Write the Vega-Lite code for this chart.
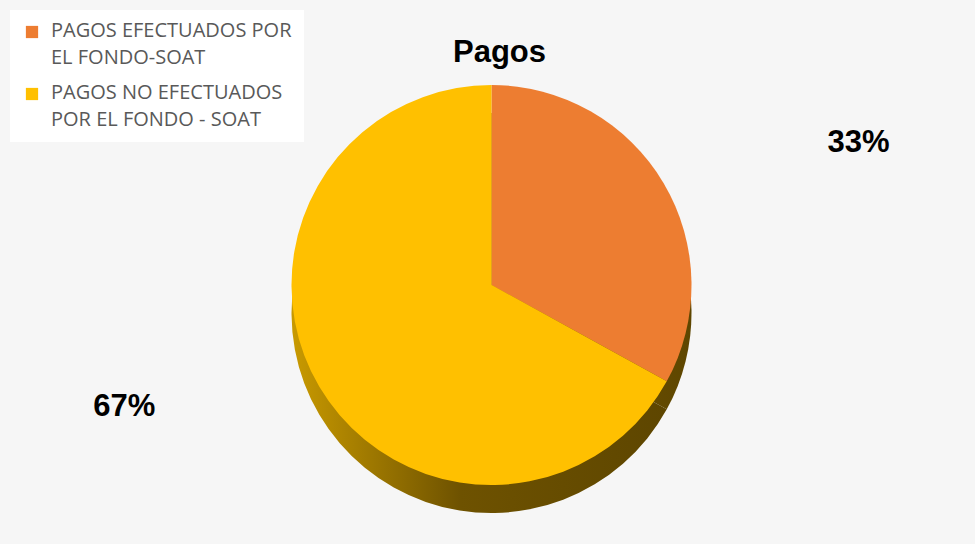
{
  "$schema": "https://vega.github.io/schema/vega-lite/v6.json",
  "width": 975,
  "height": 544,
  "autosize": {"type": "fit", "contains": "padding"},
  "padding": {"left": 8, "top": 6, "right": 0, "bottom": 0},
  "background": "#f6f6f6",
  "config": {"view": {"stroke": null}},
  "title": {
    "text": "Pagos",
    "font": "Liberation Sans",
    "fontSize": 31,
    "fontWeight": "bold",
    "color": "#000000",
    "anchor": "middle",
    "offset": -63,
    "dx": 8
  },
  "data": {
    "values": [
      {"categoria": "PAGOS EFECTUADOS POR EL FONDO-SOAT", "porcentaje": 33, "orden": 1, "etiqueta": "33%"},
      {"categoria": "PAGOS NO EFECTUADOS POR EL FONDO - SOAT", "porcentaje": 67, "orden": 2, "etiqueta": "67%"}
    ]
  },
  "layer": [
    {
      "mark": {
        "type": "arc",
        "outerRadius": 200,
        "yOffset": 38,
        "fill": {
          "gradient": "linear",
          "x1": 0, "y1": 0, "x2": 1, "y2": 0,
          "stops": [
            {"offset": 0, "color": "#c99a00"},
            {"offset": 0.45, "color": "#6e5200"},
            {"offset": 1, "color": "#5e4600"}
          ]
        }
      },
      "encoding": {
        "theta": {"field": "porcentaje", "type": "quantitative", "stack": true},
        "order": {"field": "orden", "type": "ordinal"}
      }
    },
    {
      "mark": {"type": "arc", "outerRadius": 200, "yOffset": 10},
      "encoding": {
        "theta": {"field": "porcentaje", "type": "quantitative", "stack": true},
        "order": {"field": "orden", "type": "ordinal"},
        "color": {
          "field": "categoria",
          "type": "nominal",
          "scale": {
            "domain": ["PAGOS EFECTUADOS POR EL FONDO-SOAT", "PAGOS NO EFECTUADOS POR EL FONDO - SOAT"],
            "range": ["#ED7D31", "#FFC000"]
          },
          "legend": {
            "title": null,
            "orient": "none",
            "legendX": 2,
            "legendY": 4,
            "fillColor": "white",
            "padding": 12,
            "symbolType": "square",
            "symbolSize": 150,
            "symbolStrokeWidth": 0,
            "labelFont": "Open Sans",
            "labelFontSize": 20,
            "labelColor": "#595959",
            "labelLimit": 320,
            "labelOffset": 9,
            "labelBaseline": "top",
            "rowPadding": 15,
            "labelExpr": "datum.label == 'PAGOS EFECTUADOS POR EL FONDO-SOAT' ? ['PAGOS EFECTUADOS POR', 'EL FONDO-SOAT'] : ['PAGOS NO EFECTUADOS', 'POR EL FONDO - SOAT']",
            "encode": {
              "labels": {"update": {"lineHeight": {"value": 27}, "dy": {"value": -11}}}
            }
          }
        }
      }
    },
    {
      "mark": {
        "type": "text",
        "radius": 390,
        "font": "Liberation Sans",
        "fontSize": 31,
        "fontWeight": "bold",
        "color": "#000000"
      },
      "encoding": {
        "theta": {
          "field": "porcentaje",
          "type": "quantitative",
          "stack": true,
          "scale": {"range": [0.19, 6.473]}
        },
        "order": {"field": "orden", "type": "ordinal"},
        "text": {"field": "etiqueta", "type": "nominal"}
      }
    }
  ],
  "resolve": {"scale": {"theta": "independent"}}
}
